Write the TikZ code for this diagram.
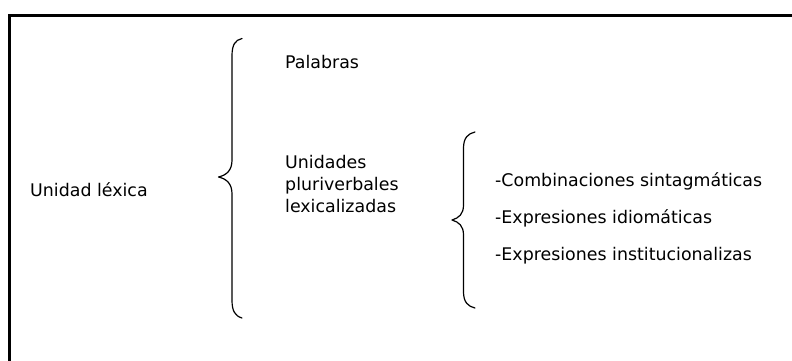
\documentclass[tikz,border=0pt]{standalone}
\usepackage{fontspec}
\setmainfont{DejaVu Sans}
\begin{document}
\begin{tikzpicture}[x=1pt,y=-1pt,
  lbl/.style={anchor=base west,inner sep=0pt,font=\fontsize{17.4}{21.7}\selectfont,align=left},
  bracepath/.style={line width=1.2pt,line cap=round,line join=round}]
\useasboundingbox (0,0) rectangle (792,361);
\draw[line width=3pt,line join=miter] (9,362) -- (9,15.5) -- (793,15.5);
% brace 1
\draw[bracepath] (242,38.5) .. controls (235,40) and (232,45) .. (232,56) -- (232,160)
  .. controls (232,170) and (227,175) .. (218.5,177)
  .. controls (227,179) and (232,184) .. (232,194) -- (232,300)
  .. controls (232,311) and (235,316) .. (242,318);
% brace 2
\draw[bracepath] (475,132) .. controls (468,133.5) and (463.5,138) .. (463.5,148) -- (463.5,205)
  .. controls (463.5,214) and (459,218) .. (452,220)
  .. controls (459,222) and (463.5,226) .. (463.5,235) -- (463.5,292)
  .. controls (463.5,302) and (468,306.5) .. (475,308);
\node[lbl] (ul) at (30,196.7) {Unidad léxica};
\node[lbl] (pal) at (285,68.3) {Palabras};
\node[lbl] (upl) at (285,212) {Unidades\\pluriverbales\\lexicalizadas};
\node[lbl] (cs) at (495,186) {-Combinaciones sintagmáticas};
\node[lbl] (ei) at (495,223.3) {-Expresiones idiomáticas};
\node[lbl] (ein) at (495,260) {-Expresiones institucionalizas};
\end{tikzpicture}
\end{document}
